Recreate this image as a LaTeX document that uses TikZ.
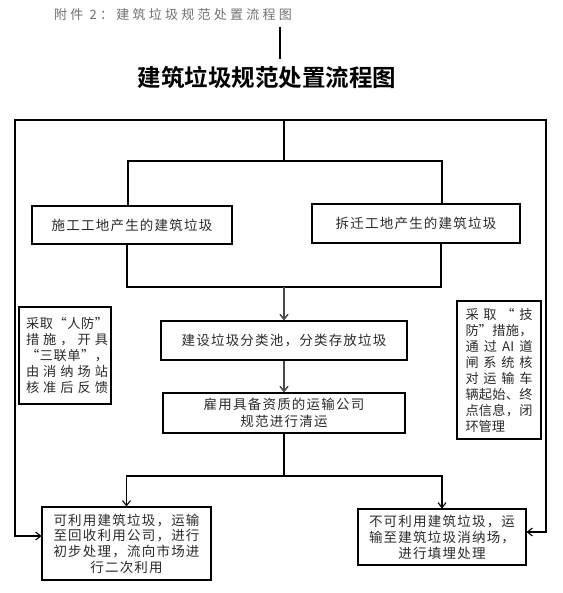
\documentclass[tikz,border=0pt]{standalone}
\usepackage{fontspec}
\newfontfamily\cjk{Noto Sans CJK SC}[BoldFont={Noto Sans CJK SC Bold}]
\usetikzlibrary{arrows.meta,calc}
\definecolor{ink}{HTML}{2A2A2A}
\definecolor{muted}{HTML}{707070}
\definecolor{pipe}{HTML}{4A4A4A}
\newcommand{\boxfont}{\cjk\addfontfeatures{LetterSpace=9}\fontsize{13.5}{16}\selectfont}
\newcommand{\notefont}{\cjk\fontsize{13.2}{16}\selectfont}
\newcommand{\titlefont}{\cjk\bfseries\fontsize{23.5}{26}\selectfont}
\newcommand{\headfont}{\cjk\addfontfeatures{LetterSpace=25}\fontsize{13}{15}\selectfont}
\ExplSyntaxOn
\NewDocumentCommand\jline{mm}{\makebox[#1pt][s]{\bool_set_true:N \l_tmpa_bool
 \tl_map_inline:nn {#2}{\bool_if:NF \l_tmpa_bool {\hfil}\bool_set_false:N \l_tmpa_bool ##1}}}
\ExplSyntaxOff
\tikzset{
 every node/.append style={text=ink,align=center,inner sep=0pt},
 box/.style={draw=black,line width=1.1pt,font=\boxfont},
 note/.style={box,font=\notefont,align=left},
 title/.style={font=\titlefont,text=black},
 word/.style={font=\headfont,text=muted},
 wire/.style={draw=black,line width=1.1pt},
 flow/.style={wire,-{Straight Barb[length=5pt,width=8pt]}},
 feed/.style={flow,draw=pipe,line width=1.5pt},
 bar/.style={draw=black,line width=2.4pt},
}
\begin{document}
\begin{tikzpicture}[x=1pt,y=-1pt]

\useasboundingbox (0,0) rectangle (562,593);
\node[word] (header) at (173,15) {附件 2：建筑垃圾规范处置流程图};
\node[title] (title) at (267,78) {建筑垃圾规范处置流程图};
\coordinate (barA) at (280,27); \coordinate (barB) at (280,59);
\draw[bar] (barA) -- (barB);

\node[box,minimum width=200,minimum height=38] (site) at (132,225) {施工工地产生的建筑垃圾};
\node[box,minimum width=208,minimum height=39] (demo) at (416,223.5) {拆迁工地产生的建筑垃圾};
\node[box,minimum width=246,minimum height=39] (pool) at (284,340.5) {建设垃圾分类池，分类存放垃圾};
\node[box,minimum width=242,minimum height=40,font={\boxfont\fontsize{13.5}{17}\selectfont}] (haul) at (284,413) {雇用具备资质的运输公司\\规范进行清运};
\node[box,minimum width=169,minimum height=73,font={\boxfont\fontsize{13.5}{15.6}\selectfont}] (reuse) at (126.5,543.5) {可利用建筑垃圾，运输\\至回收利用公司，进行\\初步处理，流向市场进\\行二次利用};
\node[box,minimum width=168,minimum height=56] (landfill) at (442,537) {不可利用建筑垃圾，运\\输至建筑垃圾消纳场，\\进行填埋处理};
\node[note,minimum width=92,minimum height=97] (civil) at (65,355.5) {\hspace*{4pt}\jline{82}{采取“人防”}\\\hspace*{4pt}\jline{82}{措施，开具}\\\hspace*{4pt}\jline{82}{“三联单”，}\\\hspace*{4pt}\jline{82}{由消纳场站}\\\hspace*{4pt}\jline{82}{核准后反馈}};
\node[note,minimum width=84,minimum height=138] (tech) at (499,370) {\jline{67}{采取“技}\\\jline{67}{防”措施，}\\\jline{67}{通过{AI}道}\\\jline{67}{闸系统核}\\\jline{67}{对运输车}\\\jline{67}{辆起始、终}\\\jline{67}{点信息，闭}\\环管理};

\coordinate (top) at (284,120);
\coordinate (split) at (284,161);
\coordinate (merge) at (284,287);
\coordinate (fork) at (284,476);
\coordinate (cornerL) at (15,120);
\coordinate (cornerR) at (546,120);
\draw[wire] (top) -- (split);
\draw[wire] ([xshift=-4]site.north) |- (split) -| ([xshift=26]demo.north);
\draw[wire] ([xshift=-5]site.south) |- (merge) -| ([xshift=25]demo.south);
\draw[feed] (merge) -- (pool);
\draw[feed] (pool) -- (haul);
\draw[wire] (haul) -- (fork);
\draw[flow] (fork) -| (reuse);
\draw[flow] (fork) -| (landfill);
\draw[flow] (top) -- (cornerL) |- ([yshift=7.5]reuse.west);
\draw[flow] (top) -- (cornerR) |- ([yshift=5]landfill.east);

\end{tikzpicture}
\end{document}
